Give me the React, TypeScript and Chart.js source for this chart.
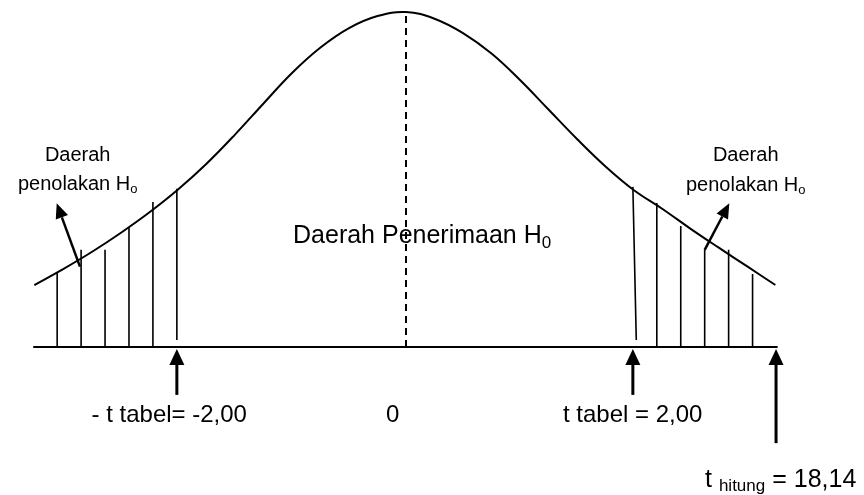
import { useEffect, useRef } from 'react';
import { Chart, registerables } from 'chart.js';

Chart.register(...registerables);

// Curve of the distribution (t units, relative height)
const curveT = [-3.26, -3.0, -2.75, -2.5, -2.25, -2.0, -1.75, -1.5, -1.25, -1.0, -0.75, -0.5, -0.25, 0, 0.25, 0.5, 0.75, 1.0, 1.25, 1.5, 1.75, 2.0, 2.25, 2.5, 2.75, 3.0, 3.24];
const curveY = [0.185, 0.234, 0.285, 0.341, 0.402, 0.47, 0.547, 0.634, 0.727, 0.818, 0.894, 0.952, 0.988, 1.0, 0.98, 0.937, 0.876, 0.797, 0.709, 0.621, 0.539, 0.468, 0.412, 0.352, 0.295, 0.239, 0.185];

// Hatching lines in the rejection regions
const hatchLeftT = [-3.06, -2.85, -2.64, -2.43, -2.22, -2.01];
const hatchLeftTop = [0.221, 0.29, 0.29, 0.358, 0.433, 0.472];
const hatchLeftBottom = [0, 0, 0, 0, 0, 0.021];
const hatchRightTopT = [1.99, 2.2, 2.41, 2.62, 2.83, 3.04];
const hatchRightBottomT = [2.02, 2.2, 2.41, 2.62, 2.83, 3.04];
const hatchRightTop = [0.478, 0.43, 0.361, 0.29, 0.29, 0.218];
const hatchRightBottom = [0.021, 0, 0, 0, 0, 0];

// Horizontal axis and centre line
const axisT = [-3.27, 3.26];
const centreT = 0;
const centreTop = 1.0;

// Arrows: from (T, Y) to (T, Y)
const arrowFromT = [-2.01, 1.99, 3.246, -2.86, 2.62];
const arrowFromY = [-0.143, -0.143, -0.287, 0.24, 0.29];
const arrowToT = [-2.01, 1.99, 3.246, -3.064, 2.836];
const arrowToY = [-0.006, -0.006, -0.006, 0.429, 0.429];
const arrowWidth = [3, 3, 3, 2.5, 2.5];

// Text labels
type Run = { s: string; sub?: boolean };
const labelRuns: Run[][] = [
  [{ s: 'Daerah' }],
  [{ s: 'penolakan H' }, { s: 'o', sub: true }],
  [{ s: 'Daerah' }],
  [{ s: 'penolakan H' }, { s: 'o', sub: true }],
  [{ s: 'Daerah Penerimaan H' }, { s: '0', sub: true }],
  [{ s: '- t tabel= -2,00' }],
  [{ s: '0' }],
  [{ s: 't tabel = 2,00' }],
  [{ s: 't ' }, { s: 'hitung', sub: true }, { s: ' = 18,14' }],
];
const labelT = [-2.88, -2.88, 2.98, 2.98, -0.991, -1.395, -0.118, 1.377, 2.623];
const labelY = [0.555, 0.469, 0.555, 0.465, 0.31, -0.224, -0.224, -0.224, -0.418];
const labelAlign = ['center', 'center', 'center', 'center', 'left', 'right', 'center', 'left', 'left'];
const labelSize = [20, 20, 20, 20, 25, 24, 24, 24, 25];
const labelSubSize = [13, 13, 13, 13, 17, 16, 16, 16, 17];
const labelSubShift = [3, 3, 3, 3, 5, 4, 4, 4, 4];

const FONT = '"Liberation Sans", Arial, Helvetica, sans-serif';

const annotPlugin = {
  id: 'annot',
  afterDatasetsDraw(chart: any) {
    const { ctx, scales } = chart;
    const xs = scales.x;
    const ys = scales.y;
    ctx.save();
    ctx.fillStyle = '#000';
    ctx.strokeStyle = '#000';
    for (let i = 0; i < arrowFromT.length; i++) {
      const x1 = xs.getPixelForValue(arrowFromT[i]);
      const y1 = ys.getPixelForValue(arrowFromY[i]);
      const x2 = xs.getPixelForValue(arrowToT[i]);
      const y2 = ys.getPixelForValue(arrowToY[i]);
      const ang = Math.atan2(y2 - y1, x2 - x1);
      const headLen = i < 3 ? 16 : 15;
      const headW = i < 3 ? 15 : 13;
      const bx = x2 - Math.cos(ang) * headLen;
      const by = y2 - Math.sin(ang) * headLen;
      ctx.lineWidth = arrowWidth[i];
      ctx.beginPath();
      ctx.moveTo(x1, y1);
      ctx.lineTo(bx, by);
      ctx.stroke();
      const nx = -Math.sin(ang) * headW / 2;
      const ny = Math.cos(ang) * headW / 2;
      ctx.beginPath();
      ctx.moveTo(x2, y2);
      ctx.lineTo(bx + nx, by + ny);
      ctx.lineTo(bx - nx, by - ny);
      ctx.closePath();
      ctx.fill();
    }
    ctx.textBaseline = 'alphabetic';
    ctx.textAlign = 'left';
    for (let i = 0; i < labelRuns.length; i++) {
      const runs = labelRuns[i];
      const big = `${labelSize[i]}px ${FONT}`;
      const small = `${labelSubSize[i]}px ${FONT}`;
      const widths = runs.map((r) => {
        ctx.font = r.sub ? small : big;
        return ctx.measureText(r.s).width;
      });
      const total = widths.reduce((a, b) => a + b, 0);
      let px = xs.getPixelForValue(labelT[i]);
      const py = ys.getPixelForValue(labelY[i]);
      if (labelAlign[i] === 'center') px -= total / 2;
      else if (labelAlign[i] === 'right') px -= total;
      runs.forEach((r, k) => {
        ctx.font = r.sub ? small : big;
        ctx.fillText(r.s, px, py + (r.sub ? labelSubShift[i] : 0));
        px += widths[k];
      });
    }
    ctx.restore();
  },
};

export default function App() {
  const ref = useRef<HTMLCanvasElement>(null);
  useEffect(() => {
    if (!ref.current) return;
    const hatch: any[] = [];
    hatchLeftT.forEach((t, i) => {
      hatch.push({ x: t, y: hatchLeftBottom[i] }, { x: t, y: hatchLeftTop[i] }, { x: t, y: null });
    });
    hatchRightTopT.forEach((t, i) => {
      hatch.push({ x: hatchRightBottomT[i], y: hatchRightBottom[i] }, { x: t, y: hatchRightTop[i] }, { x: t, y: null });
    });
    const chart = new Chart(ref.current, {
      type: 'scatter',
      data: {
        datasets: [
          {
            data: curveT.map((t, i) => ({ x: t, y: curveY[i] })),
            showLine: true,
            borderColor: '#000',
            borderWidth: 2,
            pointRadius: 0,
            tension: 0.4,
          } as any,
          {
            data: hatch,
            showLine: true,
            spanGaps: false,
            borderColor: '#000',
            borderWidth: 1.6,
            pointRadius: 0,
          } as any,
          {
            data: axisT.map((t) => ({ x: t, y: 0 })),
            showLine: true,
            borderColor: '#000',
            borderWidth: 2,
            pointRadius: 0,
          } as any,
          {
            data: [{ x: centreT, y: 0 }, { x: centreT, y: centreTop }],
            showLine: true,
            borderColor: '#000',
            borderWidth: 2,
            borderDash: [7, 5],
            pointRadius: 0,
          } as any,
        ],
      },
      options: {
        animation: false,
        responsive: false,
        layout: { padding: 0 },
        plugins: { legend: { display: false }, tooltip: { enabled: false } },
        scales: {
          x: { type: 'linear', min: -3.5614, max: 4.0175, display: false },
          y: { type: 'linear', min: -0.4418, max: 1.0358, display: false },
        },
      } as any,
      plugins: [annotPlugin],
    });
    return () => chart.destroy();
  }, []);
  return (
    <div style={{ position: 'absolute', left: 0, top: 0, width: 864, height: 495, background: '#fff' }}>
      <canvas ref={ref} width={864} height={495} />
    </div>
  );
}
